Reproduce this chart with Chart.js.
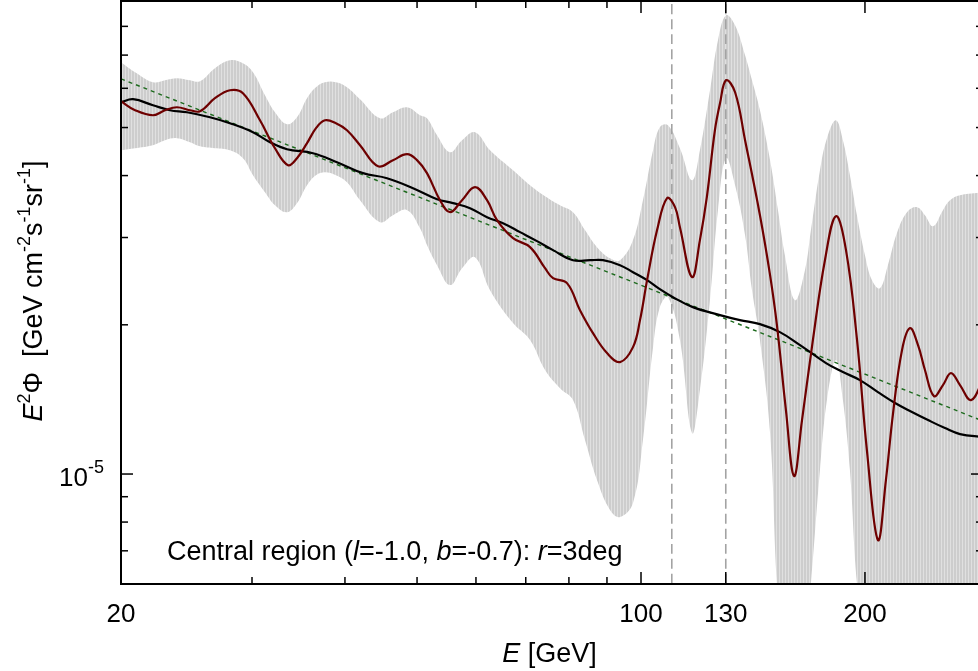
<!DOCTYPE html>
<html>
<head>
<meta charset="utf-8">
<script src="https://cdn.jsdelivr.net/npm/chart.js@4.4.1/dist/chart.umd.min.js"></script>
<style>
  html, body { margin: 0; padding: 0; background: #fff; overflow: hidden; }
  canvas { display: block; }
</style>
</head>
<body>
<canvas id="spectrum" width="984" height="671"></canvas>
<script>
// flux values are given in units of 1e-5 GeV cm^-2 s^-1 sr^-1
const UNIT = 1e-5;

// E [GeV] grid of the uncertainty band
const bandE = [20.0, 20.89, 22.08, 22.92, 23.78, 24.76, 25.54, 26.75, 28.02, 29.17,
  30.09, 31.23, 32.21, 33.43, 34.48, 35.57, 36.57, 37.60, 38.90, 40.25,
  41.91, 44.58, 46.41, 48.47, 50.46, 51.56, 53.19, 55.37, 57.47, 59.83,
  62.67, 67.29, 70.93, 74.30, 77.82, 81.02, 84.08, 87.26, 90.85, 93.71,
  97.55, 100.6, 103.8, 106.0, 108.7, 112.8, 117.1, 120.0, 123.8, 126.9,
  130.1, 133.8, 138.0, 141.0, 144.5, 149.1, 152.8, 156.1, 161.0, 166.1,
  169.2, 174.0, 177.8, 182.8, 186.8, 190.9, 195.1, 200.0, 204.4, 209.5,
  214.7, 220.8, 227.8, 235.0, 240.8, 246.9, 254.6, 260.2, 268.4, 288.2];
const bandHigh = [6.771, 6.463, 6.171, 6.228, 6.286, 6.228, 6.199, 6.585, 6.834, 6.740,
  6.463, 5.810, 5.368, 5.077, 5.245, 5.730, 6.030, 6.171, 6.171, 6.030,
  5.703, 5.221, 5.368, 5.494, 5.294, 5.221, 4.825, 4.459, 4.715, 4.893,
  4.500, 4.102, 3.826, 3.635, 3.486, 3.375, 3.105, 2.869, 2.725, 2.700,
  2.964, 3.568, 4.500, 5.009, 5.054, 4.542, 3.915, 4.500, 5.946, 7.499,
  8.423, 8.041, 6.995, 6.228, 5.419, 4.297, 3.407, 2.764, 2.243, 2.578,
  3.105, 4.102, 4.759, 5.172, 4.715, 4.008, 3.328, 2.764, 2.461, 2.371,
  2.638, 3.062, 3.375, 3.454, 3.328, 3.162, 3.407, 3.568, 3.652, 3.703];
const bandLow = [4.500, 4.542, 4.607, 4.715, 4.759, 4.671, 4.585, 4.542, 4.500, 4.336,
  4.008, 3.703, 3.486, 3.375, 3.519, 3.826, 4.008, 4.064, 4.008, 3.879,
  3.568, 3.222, 3.328, 3.407, 3.133, 2.896, 2.638, 2.405, 2.602, 2.738,
  2.349, 2.016, 1.863, 1.621, 1.490, 1.410, 1.171, 0.9725, 0.8462, 0.8190,
  0.8740, 1.171, 1.803, 2.171, 2.274, 1.863, 1.210, 1.477, 2.243, 3.407,
  4.336, 3.826, 3.033, 2.349, 1.863, 1.210, 0.557, 0.463, 0.463, 0.463,
  0.603, 1.019, 1.410, 1.697, 1.410, 1.019, 0.603, 0.463, 0.463, 0.463,
  0.463, 0.463, 0.463, 0.463, 0.463, 0.463, 0.463, 0.463, 0.463, 0.463];

// dark red curve
const redE = [20.0, 20.89, 22.08, 22.92, 23.78, 24.76, 25.54, 26.75, 28.02, 29.17,
  30.75, 32.21, 33.54, 34.48, 35.57, 36.57, 37.60, 38.90, 40.25, 41.91,
  44.31, 46.41, 48.47, 49.99, 51.56, 53.68, 55.37, 57.47, 59.83, 62.09,
  64.04, 67.29, 70.93, 74.30, 76.16, 79.53, 82.79, 86.19, 90.01, 93.71,
  97.55, 99.69, 101.9, 105.1, 108.4, 111.1, 112.8, 117.1, 120.0, 122.6,
  125.7, 127.7, 130.1, 133.8, 138.0, 144.5, 149.1, 152.3, 156.6, 160.6,
  164.6, 170.3, 176.7, 182.8, 188.6, 195.1, 201.2, 208.2, 213.4, 218.1,
  224.3, 229.9, 235.7, 240.8, 247.6, 254.6, 261.0, 268.4, 277.7, 288.2];
const redFlux = [5.650, 5.419, 5.294, 5.419, 5.494, 5.419, 5.393, 5.730, 5.946, 5.864,
  5.172, 4.542, 4.198, 4.336, 4.650, 4.985, 5.172, 5.101, 4.938, 4.607,
  4.178, 4.297, 4.418, 4.297, 4.045, 3.568, 3.375, 3.568, 3.790, 3.568,
  3.252, 2.991, 2.869, 2.602, 2.484, 2.427, 2.141, 1.924, 1.754, 1.682,
  1.803, 2.044, 2.461, 3.105, 3.602, 3.454, 3.147, 2.496, 2.964, 3.619,
  4.938, 5.597, 6.228, 5.891, 4.715, 3.328, 2.519, 1.997, 1.346, 0.9908,
  1.285, 1.871, 2.700, 3.313, 2.829, 1.871, 1.118, 0.7359, 0.9725, 1.321,
  1.778, 1.969, 1.820, 1.621, 1.436, 1.511, 1.598, 1.511, 1.410, 1.547];

// black curve
const blackE = [20.0, 20.76, 22.08, 23.27, 24.53, 26.34, 28.02, 30.09, 31.72, 33.43,
  36.23, 39.02, 42.30, 45.56, 49.38, 53.19, 55.89, 58.91, 62.09, 65.24,
  68.77, 72.48, 76.16, 81.02, 85.40, 88.90, 93.71, 97.55, 101.9, 106.0,
  110.4, 117.4, 127.7, 135.8, 144.5, 153.7, 163.6, 177.3, 186.8, 196.9,
  208.2, 219.5, 231.3, 243.1, 256.2, 268.4, 288.2];
const blackFlux = [5.623, 5.703, 5.545, 5.419, 5.368, 5.245, 5.101, 4.893, 4.671, 4.521,
  4.438, 4.257, 4.045, 3.952, 3.773, 3.585, 3.519, 3.438, 3.297, 3.207,
  3.076, 2.950, 2.829, 2.700, 2.700, 2.700, 2.638, 2.554, 2.461, 2.360,
  2.274, 2.171, 2.092, 2.044, 2.006, 1.933, 1.820, 1.674, 1.606, 1.547,
  1.463, 1.391, 1.334, 1.285, 1.238, 1.204, 1.187];

// green dashed power-law fit
const fitE = [20.0, 288.2];
const fitFlux = [6.27, 1.279];

// dashed marker lines
const markE = [110, 130];

// axes
const xRange = [20, 288.2];
const yRange = [6e-6, 9e-5];
const xTickLabels = [20, 100, 130, 200];
const xMajorTicks = [100, 130, 200];
const xMinorTicks = [30, 40, 50, 60, 70, 80, 90];
const yMajorTicks = [1e-5];
const yMinorTicks = [7e-6, 8e-6, 9e-6, 2e-5, 3e-5, 4e-5, 5e-5, 6e-5, 7e-5, 8e-5];

const FONT = '"Liberation Sans", Arial, Helvetica, sans-serif';

function points(xs, ys, scale) {
  return xs.map((x, i) => ({ x: x, y: ys[i] * scale }));
}

function stripePattern() {
  const c = document.createElement("canvas");
  c.width = 3;
  c.height = 4;
  const g = c.getContext("2d");
  g.fillStyle = "#cdcdcd";
  g.fillRect(0, 0, 3, 4);
  g.fillStyle = "#e0e0e0";
  g.fillRect(2, 0, 1, 4);
  return g.createPattern(c, "repeat");
}

// draws a run of text pieces (italic / superscript) one after another
function drawRich(ctx, parts, x, y, align) {
  let total = 0;
  parts.forEach((p) => {
    ctx.font = `${p.italic ? "italic " : ""}${p.size}px ${FONT}`;
    p.w = ctx.measureText(p.t).width;
    total += p.w;
  });
  let cx = align === "center" ? x - total / 2 : align === "right" ? x - total : x;
  ctx.textAlign = "left";
  parts.forEach((p) => {
    ctx.font = `${p.italic ? "italic " : ""}${p.size}px ${FONT}`;
    ctx.fillText(p.t, cx, y - (p.rise || 0));
    cx += p.w;
  });
}

const frame = {
  id: "frame",
  afterDraw(chart) {
    const { ctx, chartArea: a, scales } = chart;
    const xs = scales.x;
    const ys = scales.y;
    ctx.save();
    ctx.strokeStyle = "#000";
    ctx.lineWidth = 2;
    ctx.strokeRect(a.left, a.top, a.right - a.left, a.bottom - a.top);

    ctx.lineWidth = 1.5;
    const seg = (x1, y1, x2, y2) => {
      ctx.beginPath();
      ctx.moveTo(x1, y1);
      ctx.lineTo(x2, y2);
      ctx.stroke();
    };
    const xTick = (v, len) => {
      const px = xs.getPixelForValue(v);
      seg(px, a.bottom, px, a.bottom - len);
      seg(px, a.top, px, a.top + len);
    };
    const yTick = (v, len) => {
      const py = ys.getPixelForValue(v);
      seg(a.left, py, a.left + len, py);
      seg(a.right, py, a.right - len, py);
    };
    xMinorTicks.forEach((v) => xTick(v, 7));
    xMajorTicks.forEach((v) => xTick(v, 12));
    yMinorTicks.forEach((v) => yTick(v, 7));
    yMajorTicks.forEach((v) => yTick(v, 12));

    ctx.fillStyle = "#000";
    ctx.textBaseline = "alphabetic";
    ctx.font = `26px ${FONT}`;
    ctx.textAlign = "center";
    xTickLabels.forEach((v) => ctx.fillText(String(v), xs.getPixelForValue(v), a.bottom + 38));

    yMajorTicks.forEach((v) => {
      const py = ys.getPixelForValue(v);
      drawRich(ctx, [
        { t: "10", size: 26 },
        { t: "-5", size: 18, rise: 13 },
      ], a.left - 17, py + 12, "right");
    });

    // axis titles
    drawRich(ctx, [
      { t: "E", size: 27, italic: true },
      { t: " [GeV]", size: 27 },
    ], (a.left + 978) / 2, 662, "center");

    ctx.save();
    ctx.translate(42, 291);
    ctx.rotate(-Math.PI / 2);
    drawRich(ctx, [
      { t: "E", size: 27, italic: true },
      { t: "2", size: 18, rise: 12 },
      { t: "\u03A6  [GeV cm", size: 27 },
      { t: "-2", size: 18, rise: 12 },
      { t: "s", size: 27 },
      { t: "-1", size: 18, rise: 12 },
      { t: "sr", size: 27 },
      { t: "-1", size: 18, rise: 12 },
      { t: "]", size: 27 },
    ], 0, 0, "center");
    ctx.restore();

    drawRich(ctx, [
      { t: "Central region (", size: 27 },
      { t: "l", size: 27, italic: true },
      { t: "=-1.0, ", size: 27 },
      { t: "b", size: 27, italic: true },
      { t: "=-0.7): ", size: 27 },
      { t: "r", size: 27, italic: true },
      { t: "=3deg", size: 27 },
    ], 167, 560, "left");

    ctx.restore();
  },
};

const curve = { pointRadius: 0, fill: false, tension: 0.4 };

new Chart(document.getElementById("spectrum"), {
  type: "line",
  data: {
    datasets: [
      {
        ...curve,
        label: "red",
        data: points(redE, redFlux, UNIT),
        borderColor: "#6e0000",
        borderWidth: 2.2,
        order: 0,
      },
      {
        ...curve,
        label: "black",
        data: points(blackE, blackFlux, UNIT),
        borderColor: "#000000",
        borderWidth: 2.2,
        order: 1,
      },
      {
        ...curve,
        label: "fit",
        data: points(fitE, fitFlux, UNIT),
        borderColor: "#1d6a1d",
        borderWidth: 1.4,
        borderDash: [4, 4],
        order: 2,
      },
      ...markE.map((e, i) => ({
        ...curve,
        label: "mark" + e,
        data: yRange.map((v) => ({ x: e, y: v })),
        borderColor: "#a3a3a3",
        borderWidth: 1.6,
        borderDash: [10, 5],
        order: 3 + i,
      })),
      {
        ...curve,
        label: "bandHigh",
        data: points(bandE, bandHigh, UNIT),
        borderColor: "rgba(0,0,0,0)",
        borderWidth: 0,
        backgroundColor: stripePattern(),
        fill: "+1",
        order: 6,
      },
      {
        ...curve,
        label: "bandLow",
        data: points(bandE, bandLow, UNIT),
        borderColor: "rgba(0,0,0,0)",
        borderWidth: 0,
        order: 7,
      },
    ],
  },
  options: {
    responsive: false,
    animation: false,
    layout: { padding: { left: 121, top: 1, right: 1, bottom: 87 } },
    plugins: { legend: { display: false }, tooltip: { enabled: false } },
    scales: {
      x: { type: "logarithmic", min: xRange[0], max: xRange[1], display: false },
      y: { type: "logarithmic", min: yRange[0], max: yRange[1], display: false },
    },
  },
  plugins: [frame],
});
</script>
</body>
</html>
